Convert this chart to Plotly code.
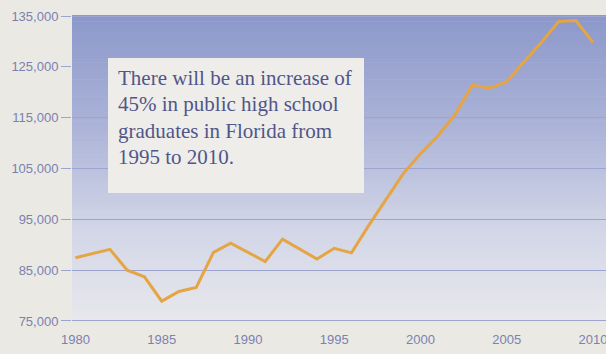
import plotly.graph_objects as go

# ---- data ----
years = list(range(1980, 2011))
graduates = [87450, 88200, 89100, 85000, 83700, 78900, 80800, 81600, 88500, 90300,
             88500, 86700, 91100, 89100, 87200, 89300, 88400, 93800, 98900, 104000,
             107900, 111400, 115600, 121400, 120800, 122100, 126000, 129800, 133900,
             134100, 129750]
x_ticks = [1980, 1985, 1990, 1995, 2000, 2005, 2010]
y_ticks = [75000, 85000, 95000, 105000, 115000, 125000, 135000]
note_lines = ["There will be an increase of",
              "45% in public high school",
              "graduates in Florida from",
              "1995 to 2010."]

# ---- geometry helpers (plot area in px) ----
W, H = 606, 354
L, R, T, B = 72, 0, 15, 32
PW = W - L - R
PH = H - T - B
PAPER = '#ebe9e4'


def px_x(px):
    return (px - L) / PW


def px_y(py):
    return (H - B - py) / PH


def hex2rgb(h):
    h = h.lstrip('#')
    return tuple(int(h[i:i + 2], 16) for i in (0, 2, 4))


def lerp_color(stops, t):
    for (t0, c0), (t1, c1) in zip(stops, stops[1:]):
        if t0 <= t <= t1:
            f = (t - t0) / (t1 - t0) if t1 > t0 else 0
            a, b = hex2rgb(c0), hex2rgb(c1)
            return 'rgb(%d,%d,%d)' % tuple(round(a[i] + (b[i] - a[i]) * f) for i in range(3))
    return stops[-1][1]


grad_stops = [(0.0, '#e8e8ec'), (0.3, '#d2d6e7'), (0.65, '#aab2d7'), (1.0, '#8c98ca')]

shapes = []
N = 90
for i in range(N):
    y0 = i / N
    y1 = (i + 1) / N + 0.002
    shapes.append(dict(type='rect', xref='paper', yref='paper', x0=0, x1=1, y0=y0, y1=min(y1, 1),
                       fillcolor=lerp_color(grad_stops, (i + 0.5) / N), line_width=0, layer='below'))

# text box
shapes.append(dict(type='rect', xref='paper', yref='paper',
                   x0=px_x(108), x1=px_x(364), y0=px_y(193), y1=px_y(58),
                   fillcolor='#eeede9', line_width=0, layer='above'))

annotations = []
for i, line in enumerate(note_lines):
    annotations.append(dict(xref='paper', yref='paper', x=px_x(116), y=px_y(78 + i * 26.4),
                            xanchor='left', yanchor='middle', showarrow=False, text=line,
                            font=dict(family='Liberation Serif', size=21, color='#50568a')))

fig = go.Figure()
fig.add_trace(go.Scatter(x=years, y=graduates, mode='lines',
                         line=dict(color='#e5a544', width=3), hoverinfo='skip'))

grid_col = '#9da4cf'
tick_font = dict(family='Liberation Sans', size=13, color='#7a81b0')

fig.update_layout(
    width=W, height=H,
    margin=dict(l=L, r=R, t=T, b=B, pad=0, autoexpand=False),
    paper_bgcolor=PAPER,
    plot_bgcolor=PAPER,
    showlegend=False,
    shapes=shapes,
    annotations=annotations,
    xaxis=dict(range=[1979.8, 2010.75], tickvals=x_ticks, showgrid=False, zeroline=False,
               showline=False, ticks='', tickfont=tick_font, ticklabelstandoff=8,
               automargin=False, ticklabeloverflow='allow'),
    yaxis=dict(range=[74800, 135200], tickvals=y_ticks, tickformat=',', showgrid=True,
               gridcolor=grid_col, gridwidth=1, zeroline=False, showline=False,
               ticks='outside', ticklen=10, tickcolor=grid_col, tickwidth=1,
               tickfont=tick_font, automargin=False),
)

fig.write_html('out.html',
               config={'displayModeBar': False, 'staticPlot': True},
               post_script="document.body.style.margin='0';"
                           "document.body.style.overflow='hidden';"
                           "document.body.style.background='%s';" % PAPER)
